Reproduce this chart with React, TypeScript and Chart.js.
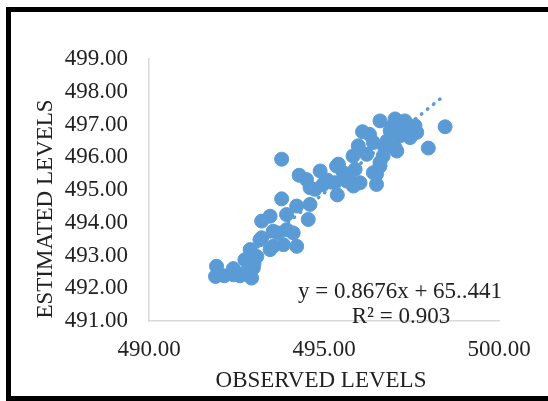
import React, { useEffect, useRef } from "react";
import { Chart, registerables } from "chart.js";

Chart.register(...registerables);

// Observed vs. estimated water levels
const observed: number[] = [
  491.93, 491.9, 492.15, 492.41, 492.6, 492.93, 492.41, 492.7,
  492.74, 492.98, 492.89, 493.08, 493.17, 493.22, 493.46, 493.0,
  493.22, 493.46, 493.55, 493.55, 493.69, 493.84, 493.93, 493.93, 494.12, 494.22,
  493.79, 494.22, 494.6, 494.55, 493.79,
  494.29, 494.5, 494.6, 494.74, 494.89, 494.97, 495.36, 495.38, 495.41, 495.65,
  495.55, 495.31, 495.83, 495.89, 495.84, 496.03, 496.41, 496.5, 496.5, 496.6, 496.6,
  495.98, 496.1, 496.22, 496.41, 496.69, 496.6, 496.89, 497.03, 497.31, 497.6,
  497.65, 497.46, 497.03, 497.08, 497.17, 496.3, 497.98, 498.46,
  496.8, 496.95, 497.25, 495.7, 495.1, 496.75,
];
const estimated: number[] = [
  492.67, 492.36, 492.38, 492.41, 492.38, 492.31, 492.6, 492.45,
  492.87, 492.62, 493.18, 492.97, 493.48, 493.54, 493.18, 492.75,
  494.05, 494.2, 493.74, 493.28, 493.69, 493.33, 493.79, 494.25, 493.69, 493.28,
  494.73, 494.51, 494.56, 494.1, 495.94,
  495.45, 495.32, 495.07, 495.02, 495.58, 495.17, 495.73, 494.85, 495.79, 495.27,
  495.53, 495.22, 496.04, 495.63, 495.12, 495.22, 495.53, 495.48, 495.17, 495.73, 495.84,
  496.35, 496.78, 496.09, 496.45, 496.04, 497.11, 496.81, 497.17, 497.11, 496.96,
  496.76, 496.6, 496.29, 496.19, 496.65, 496.7, 496.28, 496.93,
  496.5, 496.95, 496.85, 495.4, 495.3, 496.3,
];

// Linear trend fitted to the series
const SLOPE = 0.8676;
const INTERCEPT = 65.441;
const equationLines: string[] = ["y = 0.8676x + 65..441", "R² = 0.903"];

const xTitle = "OBSERVED LEVELS";
const yTitle = "ESTIMATED LEVELS";
const xRange: number[] = [490, 500];
const yRange: number[] = [491, 499];

const POINT_COLOR = "#5B9BD5";
const TEXT_COLOR = "#222222";
const FONT = "Liberation Serif, Times New Roman, serif";

const labelsPlugin = {
  id: "chartLabels",
  afterDraw(chart: any) {
    const ctx = chart.ctx as CanvasRenderingContext2D;
    const area = chart.chartArea;
    ctx.save();
    ctx.fillStyle = TEXT_COLOR;
    ctx.font = `23px ${FONT}`;
    ctx.textAlign = "center";
    ctx.textBaseline = "middle";
    // axis titles
    ctx.fillText(xTitle, 321, 381);
    ctx.save();
    ctx.translate(46, 209);
    ctx.rotate(-Math.PI / 2);
    ctx.fillText(yTitle, 0, 0);
    ctx.restore();
    // trendline equation
    ctx.fillText(equationLines[0], area.left + 251, 292);
    ctx.fillText(equationLines[1], area.left + 252, 317);
    ctx.restore();
  },
};

export default function App() {
  const canvasRef = useRef<HTMLCanvasElement | null>(null);

  useEffect(() => {
    const canvas = canvasRef.current;
    if (!canvas) return;
    const points = observed.map((x, i) => ({ x, y: estimated[i] }));
    const xMin = Math.min(...observed);
    const xMax = Math.max(...observed);
    const trend = [
      { x: xMin, y: SLOPE * xMin + INTERCEPT },
      { x: xMax, y: SLOPE * xMax + INTERCEPT },
    ];

    const chart = new Chart(canvas, {
      type: "scatter",
      data: {
        datasets: [
          {
            data: points,
            backgroundColor: POINT_COLOR,
            borderColor: POINT_COLOR,
            borderWidth: 1,
            pointRadius: 7,
            pointHoverRadius: 7,
          },
          {
            type: "line",
            data: trend,
            showLine: true,
            borderColor: POINT_COLOR,
            borderWidth: 3.5,
            borderDash: [0.5, 7.3],
            borderCapStyle: "round",
            pointRadius: 0,
            fill: false,
          } as any,
        ],
      },
      options: {
        animation: false,
        responsive: false,
        devicePixelRatio: 1,
        layout: { padding: { left: 0, right: 49, top: 59, bottom: 0 } },
        plugins: {
          legend: { display: false },
          tooltip: { enabled: false },
        },
        scales: {
          x: {
            type: "linear",
            min: xRange[0],
            max: xRange[1],
            afterFit: (s: any) => {
              s.height = 80;
            },
            grid: { display: false, drawTicks: false },
            border: { display: true, color: "#d9d9d9", width: 1.5 },
            ticks: {
              stepSize: 5,
              padding: 15,
              color: TEXT_COLOR,
              font: { family: FONT, size: 23 },
              maxRotation: 0,
              callback: (v: any) => Number(v).toFixed(2),
            },
          },
          y: {
            type: "linear",
            min: yRange[0],
            max: yRange[1],
            afterFit: (s: any) => {
              s.width = 149;
            },
            grid: { display: false, drawTicks: false },
            border: { display: true, color: "#d9d9d9", width: 1.5 },
            ticks: {
              stepSize: 1,
              padding: 21,
              color: TEXT_COLOR,
              font: { family: FONT, size: 23 },
              callback: (v: any) => Number(v).toFixed(2),
            },
          },
        },
      },
      plugins: [labelsPlugin],
    });

    return () => chart.destroy();
  }, []);

  return (
    <div
      style={{
        position: "absolute",
        left: 0,
        top: 0,
        width: 548,
        height: 401,
        overflow: "hidden",
        background: "#ffffff",
      }}
    >
      <canvas
        ref={canvasRef}
        width={548}
        height={401}
        style={{ position: "absolute", left: 0, top: 0, display: "block" }}
      />
      <div
        style={{
          position: "absolute",
          left: 6,
          top: 7,
          width: 560,
          height: 394,
          boxSizing: "border-box",
          border: "5px solid #000000",
          pointerEvents: "none",
        }}
      />
    </div>
  );
}
